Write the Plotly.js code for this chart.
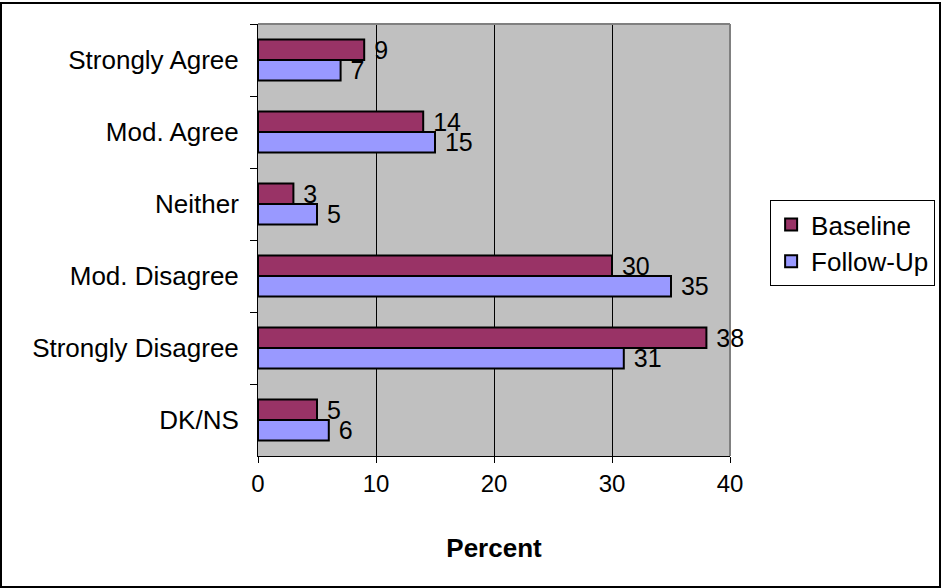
<!DOCTYPE html>
<html>
<head>
<meta charset="utf-8">
<script src="https://cdn.plot.ly/plotly-3.0.1.min.js"></script>
<style>
html,body{margin:0;padding:0;background:#fff;}
#wrap{position:relative;width:941px;height:588px;}
#chart{width:941px;height:588px;}
#frame{position:absolute;left:0;top:2px;width:937px;height:582px;border:2px solid #000;pointer-events:none;}
</style>
</head>
<body>
<div id="wrap"><div id="chart"></div><div id="frame"></div></div>
<script>
var categories = ["Strongly Agree", "Mod. Agree", "Neither", "Mod. Disagree", "Strongly Disagree", "DK/NS"];
var baseline = [9, 14, 3, 30, 38, 5];
var followUp = [7, 15, 5, 35, 31, 6];
var xTicks = [0, 10, 20, 30, 40];

var font = "Arial, 'Liberation Sans', sans-serif";

var traces = [
  {
    type: "bar", orientation: "h", name: "Baseline",
    y: categories, x: baseline,
    texttemplate: "\u00a0%{x}", textposition: "outside", cliponaxis: false,
    constraintext: "none",
    textfont: {family: font, size: 25, color: "#000"},
    marker: {color: "#993366", line: {color: "#000", width: 2}}
  },
  {
    type: "bar", orientation: "h", name: "Follow-Up",
    y: categories, x: followUp,
    texttemplate: "\u00a0%{x}", textposition: "outside", cliponaxis: false,
    constraintext: "none",
    textfont: {family: font, size: 25, color: "#000"},
    marker: {color: "#9999FF", line: {color: "#000", width: 2}}
  }
];

var layout = {
  width: 941, height: 588,
  margin: {l: 258, r: 211, t: 24, b: 132, autoexpand: false},
  paper_bgcolor: "#fff",
  plot_bgcolor: "#C0C0C0",
  barmode: "group",
  bargap: 0.43,
  bargroupgap: 0,
  font: {family: font, size: 24, color: "#000"},
  xaxis: {
    range: [0, 40], tickvals: xTicks, ticktext: xTicks.map(String),
    showgrid: true, gridcolor: "#000", gridwidth: 1,
    zeroline: false, showline: true, linecolor: "#000", linewidth: 1,
    ticks: "outside", ticklen: 6, tickcolor: "#000",
    tickfont: {family: font, size: 24},
    title: {text: "<b>Percent</b>", font: {family: font, size: 26}, standoff: 43}
  },
  yaxis: {
    type: "category", autorange: "reversed",
    showgrid: false, zeroline: false,
    showline: true, linecolor: "#000", linewidth: 1,
    ticks: "outside", ticklen: 7, tickcolor: "#000", tickson: "boundaries",
    ticklabelstandoff: 13,
    tickfont: {family: font, size: 26}
  },
  legend: {
    x: 1.085, y: 0.5926, xanchor: "left", yanchor: "top",
    bgcolor: "#fff", bordercolor: "#000", borderwidth: 1,
    font: {family: font, size: 26}, traceorder: "normal", itemwidth: 30
  },
  shapes: [
    {type: "line", xref: "paper", yref: "paper", x0: 0, x1: 1, y0: 1, y1: 1, line: {color: "#808080", width: 2}, layer: "above"},
    {type: "line", xref: "paper", yref: "paper", x0: 1, x1: 1, y0: 0, y1: 1, line: {color: "#808080", width: 2}, layer: "above"}
  ],
  showlegend: true
};

Plotly.newPlot("chart", traces, layout, {displayModeBar: false, staticPlot: true});
</script>
</body>
</html>
